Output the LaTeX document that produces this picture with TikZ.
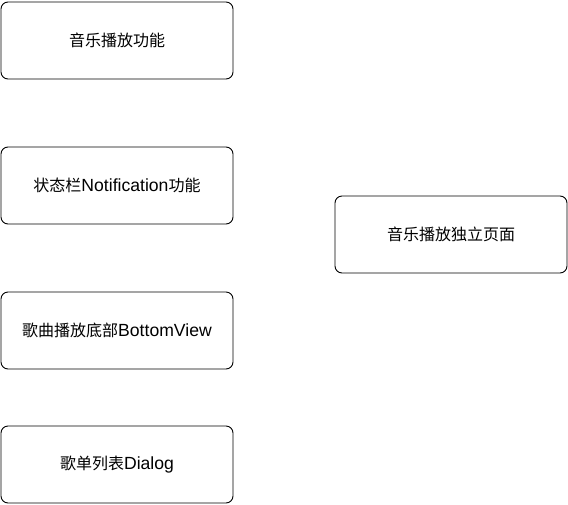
\documentclass[tikz,border=0pt]{standalone}
\usepackage{fontspec}
\setmainfont{Liberation Sans}[Scale=1.1]
\newfontfamily\cjk{Noto Sans CJK SC}
\begin{document}
\begin{tikzpicture}[x=1pt,y=-1pt,
  box/.style={draw=black,line width=0.9pt,rounded corners=7pt,fill=white,inner sep=0pt,
    minimum width=232pt,minimum height=77pt,font=\fontsize{16pt}{19pt}\selectfont,anchor=center}]
\useasboundingbox (0,0) rectangle (568,504);
\node[box] (a) at (117,40.5) {\cjk 音乐播放功能};
\node[box] (b) at (117,185.5) {{\cjk 状态栏}Notification{\cjk 功能}};
\node[box] (c) at (117,330.5) {{\cjk 歌曲播放底部}BottomView};
\node[box] (d) at (117,464.5) {{\cjk 歌单列表}Dialog};
\node[box] (e) at (451,234.5) {\cjk 音乐播放独立页面};
\end{tikzpicture}
\end{document}
